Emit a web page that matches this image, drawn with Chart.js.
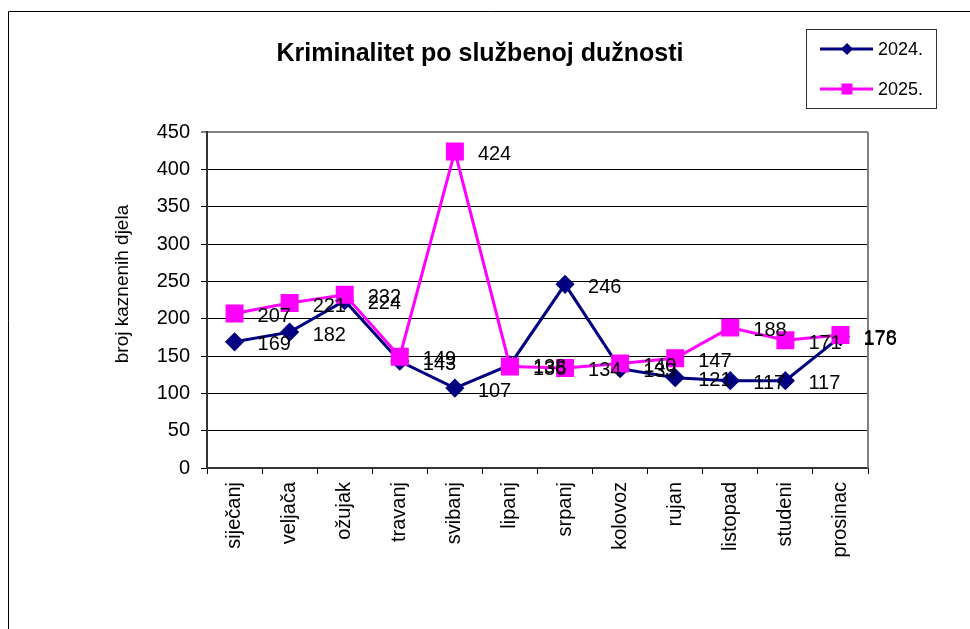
<!DOCTYPE html>
<html>
<head>
<meta charset="utf-8">
<script src="https://cdn.jsdelivr.net/npm/chart.js@4/dist/chart.umd.min.js"></script>
<style>
  html, body { margin: 0; padding: 0; background: #fff; }
  #wrap { width: 970px; height: 629px; position: relative; }
</style>
</head>
<body>
<div id="wrap"><canvas id="grafikon"></canvas></div>
<script>
// podaci očitani s grafikona
const mjeseci = ['siječanj', 'veljača', 'ožujak', 'travanj', 'svibanj', 'lipanj',
                 'srpanj', 'kolovoz', 'rujan', 'listopad', 'studeni', 'prosinac'];
const god2024 = [169, 182, 224, 143, 107, 138, 246, 133, 121, 117, 117, 176];
const god2025 = [207, 221, 232, 149, 424, 136, 134, 140, 147, 188, 171, 178];
const yTicks = [0, 50, 100, 150, 200, 250, 300, 350, 400, 450];

const naslov = 'Kriminalitet po službenoj dužnosti';
const yNaslov = 'broj kaznenih djela';

Chart.defaults.font.family = "'Liberation Sans', Arial, sans-serif";
Chart.defaults.color = '#000';

// okvir, naslov, legenda, vrijednosti uz točke
const crtez = {
    id: 'crtez',
    beforeDraw(chart) {
        const c = chart.ctx;
        c.save();
        c.fillStyle = '#fff';
        c.fillRect(0, 0, chart.width, chart.height);
        c.strokeStyle = '#000';
        c.lineWidth = 1;
        c.beginPath();
        c.moveTo(8.5, chart.height);
        c.lineTo(8.5, 11.5);
        c.lineTo(chart.width, 11.5);
        c.stroke();
        c.restore();
    },
    afterDatasetsDraw(chart) {
        const c = chart.ctx, a = chart.chartArea;
        c.save();
        // desni rub
        c.strokeStyle = '#808080';
        c.lineWidth = 2;
        c.beginPath();
        c.moveTo(a.right, a.top);
        c.lineTo(a.right, a.bottom);
        c.stroke();

        // vrijednosti
        c.fillStyle = '#000';
        c.font = "20px 'Liberation Sans', Arial";
        c.textAlign = 'left';
        c.textBaseline = 'middle';
        chart.data.datasets.forEach((ds, i) => {
            chart.getDatasetMeta(i).data.forEach((p, j) => {
                c.fillText(String(ds.data[j]), p.x + 23, p.y + 3);
            });
        });

        // naslov
        c.font = "bold 25px 'Liberation Sans', Arial";
        c.textAlign = 'center';
        c.fillText(naslov, 480, 54);

        // naslov osi y
        c.save();
        c.translate(123, 284);
        c.rotate(-Math.PI / 2);
        c.font = "19px 'Liberation Sans', Arial";
        c.fillText(yNaslov, 0, 0);
        c.restore();

        // legenda
        c.strokeStyle = '#333';
        c.lineWidth = 1;
        c.strokeRect(806.5, 29.5, 130, 79);
        c.font = "18px 'Liberation Sans', Arial";
        c.textAlign = 'left';
        chart.data.datasets.forEach((ds, i) => {
            const y = 49 + i * 40;
            c.strokeStyle = ds.borderColor;
            c.lineWidth = 3;
            c.beginPath();
            c.moveTo(820, y);
            c.lineTo(873, y);
            c.stroke();
            c.fillStyle = ds.borderColor;
            if (ds.pointStyle === 'rectRot') {
                c.beginPath();
                c.moveTo(847, y - 6);
                c.lineTo(853, y);
                c.lineTo(847, y + 6);
                c.lineTo(841, y);
                c.closePath();
                c.fill();
            } else {
                c.fillRect(841.5, y - 5.5, 11, 11);
            }
            c.fillStyle = '#000';
            c.fillText(ds.label, 878, y + 1);
        });
        c.restore();
    }
};

new Chart(document.getElementById('grafikon'), {
    type: 'line',
    data: {
        labels: mjeseci,
        datasets: [
            { label: '2024.', data: god2024, borderColor: '#000080', backgroundColor: '#000080',
              borderWidth: 3, pointStyle: 'rectRot', pointRadius: 7.5, pointHoverRadius: 7.5, order: 1 },
            { label: '2025.', data: god2025, borderColor: '#ff00ff', backgroundColor: '#ff00ff',
              borderWidth: 3, pointStyle: 'rect', pointRadius: 10.6, pointHoverRadius: 10.6, order: 0 }
        ]
    },
    options: {
        responsive: true, maintainAspectRatio: false, animation: false,
        layout: { padding: { top: 132, right: 102, left: 0, bottom: 0 } },
        plugins: { legend: { display: false }, title: { display: false }, tooltip: { enabled: false } },
        scales: {
            x: {
                offset: true,
                grid: { display: true, drawOnChartArea: false, drawTicks: true, tickLength: 6, color: '#000', offset: true },
                border: { color: '#333', width: 2 },
                ticks: { minRotation: 90, maxRotation: 90, autoSkip: false, padding: 8, font: { size: 20 } },
                afterFit: s => { s.height = 161; }
            },
            y: {
                min: 0, max: 450,
                afterBuildTicks: s => { s.ticks = yTicks.map(v => ({ value: v })); },
                grid: {
                    color: ctx => ctx.tick && ctx.tick.value === 450 ? '#808080' : '#000',
                    lineWidth: ctx => ctx.tick && ctx.tick.value === 450 ? 2 : 1,
                    tickLength: 6
                },
                border: { color: '#333', width: 2 },
                ticks: { padding: 11, font: { size: 20 } },
                afterFit: s => { s.width = 207; }
            }
        }
    },
    plugins: [crtez]
});
</script>
</body>
</html>
